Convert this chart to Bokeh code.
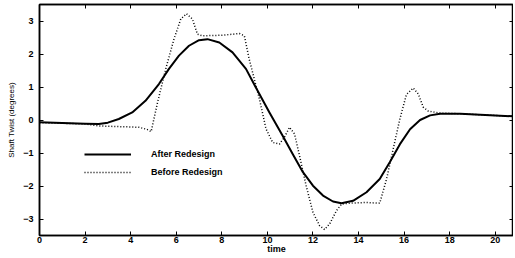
from bokeh.plotting import figure
from bokeh.models import Range1d, LinearAxis, FixedTicker
from bokeh.embed import file_html
from bokeh.resources import INLINE

# ---- data ----
after_t = [0, 1, 2, 2.6, 3.0, 3.48, 4.07, 4.65, 5.24, 5.68, 6.12, 6.56, 7.0, 7.37,
           7.89, 8.47, 9.06, 9.5, 10.09, 10.67, 11.11, 11.56, 12.0, 12.44, 12.88,
           13.25, 13.76, 14.35, 14.93, 15.37, 15.81, 16.26, 16.7, 17.14, 17.58,
           18.46, 19.34, 20.8, 21]
after_y = [-0.07, -0.09, -0.11, -0.12, -0.08, 0.03, 0.23, 0.58, 1.09, 1.55, 1.95,
           2.25, 2.42, 2.45, 2.35, 2.05, 1.55, 0.98, 0.23, -0.48, -1.03, -1.58, -1.99,
           -2.29, -2.47, -2.52, -2.45, -2.19, -1.79, -1.28, -0.74, -0.28, 0.0, 0.14,
           0.19, 0.19, 0.16, 0.11, 0.1]

before_t = [0, 2, 2.6, 3.5, 4.36, 4.7, 4.9, 5.17, 5.54, 5.9, 6.2, 6.45, 6.71, 6.93,
            7.15, 8.0, 8.5, 8.77, 8.99, 9.2, 9.5, 9.65, 9.94, 10.23, 10.53, 10.75,
            10.97, 11.19, 11.41, 11.7, 12.0, 12.29, 12.51, 12.73, 13.03, 13.25, 13.6,
            14.3, 14.93, 15.23, 15.52, 15.81, 16.1, 16.4, 16.62, 16.84, 17.06, 17.58,
            18.46, 19.34, 20.8, 21]
before_y = [-0.08, -0.12, -0.18, -0.2, -0.22, -0.28, -0.35, 0.5, 1.55, 2.45, 3.06,
            3.22, 3.06, 2.6, 2.55, 2.57, 2.6, 2.62, 2.55, 1.85, 1.04, 0.64, -0.27,
            -0.68, -0.73, -0.52, -0.22, -0.42, -1.08, -1.99, -2.8, -3.2, -3.32, -3.15,
            -2.75, -2.55, -2.52, -2.5, -2.52, -1.79, -0.88, 0.02, 0.77, 0.97, 0.79,
            0.39, 0.27, 0.21, 0.19, 0.16, 0.11, 0.1]

x_ticks = [0, 2, 4, 6, 8, 10, 12, 14, 16, 18, 20]
y_ticks = [-3, -2, -1, 0, 1, 2, 3]
y_tick_labels = {-3: "\u22123", -2: "\u22122", -1: "\u22121", 0: "0", 1: "1", 2: "2", 3: "3"}

FONT = "Liberation Sans"

p = figure(width=513, height=256, output_backend="svg", toolbar_location=None,
           x_range=Range1d(0, 20.8), y_range=Range1d(-3.5, 3.5),
           min_border_left=39, min_border_right=0, min_border_top=4, min_border_bottom=0)
p.background_fill_color = "white"
p.border_fill_color = "white"
p.outline_line_color = "black"
p.outline_line_width = 1.5
p.grid.visible = False

p.line(after_t, after_y, line_color="black", line_width=2, line_join="round",
       legend_label="After Redesign")
p.line(before_t, before_y, line_color="black", line_width=1.5, line_dash="1 2",
       legend_label="Before Redesign")

def style(ax):
    ax.major_tick_in = 4
    ax.major_tick_out = 0
    ax.minor_tick_in = 0
    ax.minor_tick_out = 0
    ax.axis_line_color = "black"
    ax.axis_line_width = 1.5
    ax.major_tick_line_color = "black"
    ax.major_label_text_font = FONT
    ax.major_label_text_font_style = "bold"
    ax.major_label_text_font_size = "9px"
    ax.major_label_text_color = "black"
    ax.axis_label_text_font = FONT
    ax.axis_label_text_font_style = "bold"
    ax.axis_label_text_color = "black"

xa = p.xaxis[0]
style(xa)
xa.ticker = FixedTicker(ticks=x_ticks)
xa.major_label_standoff = 1
xa.axis_label = "time"
xa.axis_label_text_font_size = "9px"
xa.axis_label_standoff = -2

ya = p.yaxis[0]
style(ya)
ya.ticker = FixedTicker(ticks=y_ticks)
ya.major_label_overrides = y_tick_labels
ya.major_label_standoff = 6
ya.axis_label = "Shaft Twist (degrees)"
ya.axis_label_text_font_size = "8px"
ya.axis_label_text_font_style = "normal"
ya.axis_label_standoff = 4

top = LinearAxis(ticker=FixedTicker(ticks=x_ticks))
style(top)
top.major_label_overrides = {t: "" for t in x_ticks}
top.major_label_text_font_size = "0px"
top.major_label_standoff = 0
p.add_layout(top, "above")

right = LinearAxis(ticker=FixedTicker(ticks=y_ticks))
style(right)
right.major_label_overrides = {t: "" for t in y_ticks}
right.major_label_text_font_size = "0px"
right.major_label_standoff = 0
p.add_layout(right, "right")

lg = p.legend[0]
lg.location = (45, 54)
lg.border_line_alpha = 0
lg.background_fill_alpha = 0
lg.padding = 0
lg.margin = 0
lg.spacing = 0
lg.glyph_width = 47
lg.glyph_height = 18
lg.label_standoff = 20
lg.label_text_font = FONT
lg.label_text_font_style = "bold"
lg.label_text_font_size = "9px"
lg.label_text_color = "black"

open("out.html", "w").write(file_html(p, INLINE))
